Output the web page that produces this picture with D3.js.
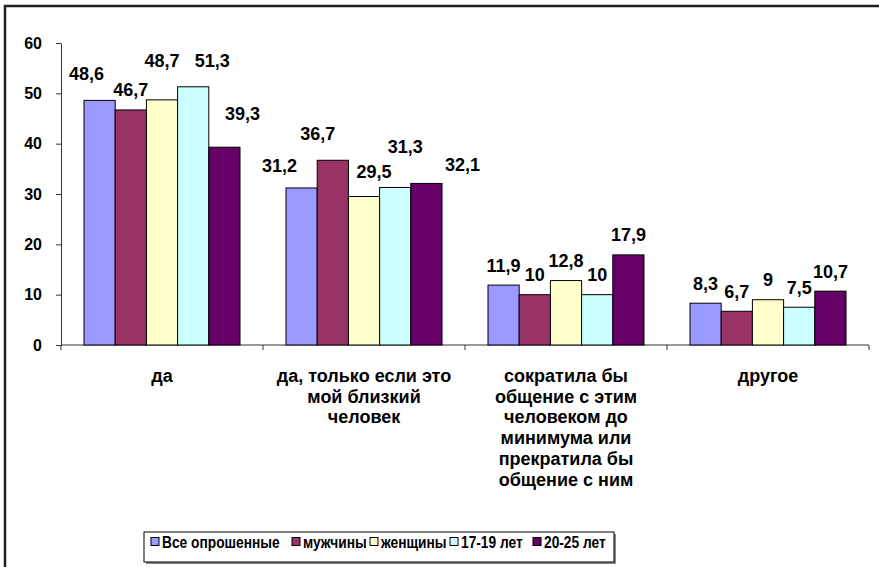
<!DOCTYPE html>
<html>
<head>
<meta charset="utf-8">
<script src="https://cdn.jsdelivr.net/npm/d3@7"></script>
<style>
  body { margin: 0; background: #fff; }
  text { font-family: 'Liberation Sans', Arial, sans-serif; font-weight: bold; fill: #000; }
</style>
</head>
<body>
<div class="chart"></div>
<script>
const categories = [
    'да',
    'да, только если это\nмой близкий\nчеловек',
    'сократила бы\nобщение с этим\nчеловеком до\nминимума или\nпрекратила бы\nобщение с ним',
    'другое'
];
const seriesNames = ['Все опрошенные', 'мужчины', 'женщины', '17-19 лет', '20-25 лет'];
const allRespondents = [48.6, 31.2, 11.9, 8.3];
const men = [46.7, 36.7, 10, 6.7];
const women = [48.7, 29.5, 12.8, 9];
const age17to19 = [51.3, 31.3, 10, 7.5];
const age20to25 = [39.3, 32.1, 17.9, 10.7];
const yTicks = [0, 10, 20, 30, 40, 50, 60];

// label nudges (px) where the original labels were dragged away from the bar
const labelNudge = [
    [[-13, -7], [-22, -2], [0, 0], [0, 0]],
    [[0, 0], [-15, -7], [0, 0], [0, 0]],
    [[0, -19], [10, -5], [0, 0], [0, 0]],
    [[19, -6], [10, -21], [0, 0], [0, 0]],
    [[18, -14], [36, 1], [0, 0], [0, 0]]
];

const colors = ['#9999ff', '#993366', '#ffffcc', '#ccffff', '#660066'];
const seriesValues = [allRespondents, men, women, age17to19, age20to25];

const w = 879;
const h = 567;

const svg = d3.select('.chart')
    .append('svg')
    .attr('width', w)
    .attr('height', h);

// outer frame
svg.append('rect')
    .attr('x', 5).attr('y', 6)
    .attr('width', 900).attr('height', 600)
    .attr('fill', 'none')
    .attr('stroke', '#222')
    .attr('stroke-width', 2.5);

const x0 = d3.scaleBand()
    .domain(d3.range(categories.length))
    .range([61, 869]);

const x1 = d3.scaleBand()
    .domain(d3.range(seriesNames.length))
    .range([23, x0.bandwidth() - 23]);

const y = d3.scaleLinear()
    .domain([0, 60])
    .range([345, 43]);

// y axis
const yAxis = d3.axisLeft(y).tickValues(yTicks).tickSize(5).tickSizeOuter(0).tickPadding(14);
const gy = svg.append('g')
    .attr('transform', 'translate(61,0)')
    .call(yAxis);
gy.select('.domain').attr('stroke', '#333');
gy.selectAll('.tick line').attr('stroke', '#333');
gy.selectAll('.tick text')
    .style('font-size', '16px')
    .style('font-family', "'Liberation Sans', Arial, sans-serif")
    .style('font-weight', 'bold');

// x axis line with ticks between categories
const gx = svg.append('g').attr('transform', 'translate(0,345)');
gx.append('line')
    .attr('x1', 61).attr('x2', 869)
    .attr('stroke', '#333');
gx.selectAll('.sep')
    .data(d3.range(categories.length + 1))
    .enter()
    .append('line')
    .attr('x1', (d) => d < categories.length ? x0(d) : x0(d - 1) + x0.bandwidth())
    .attr('x2', (d) => d < categories.length ? x0(d) : x0(d - 1) + x0.bandwidth())
    .attr('y1', 0).attr('y2', 5)
    .attr('stroke', '#333');

// bars
const groups = svg.selectAll('.grp')
    .data(categories)
    .enter()
    .append('g')
    .attr('transform', (d, i) => 'translate(' + x0(i) + ',0)');

groups.each(function (c, ci) {
    const g = d3.select(this);
    seriesValues.forEach((vals, si) => {
        const v = vals[ci];
        g.append('rect')
            .attr('x', x1(si))
            .attr('y', y(v))
            .attr('width', x1.bandwidth())
            .attr('height', y(0) - y(v))
            .attr('fill', colors[si])
            .attr('stroke', '#000')
            .attr('stroke-width', 1);
        const nudge = labelNudge[si][ci];
        g.append('text')
            .attr('x', x1(si) + x1.bandwidth() / 2 + nudge[0])
            .attr('y', y(v) - 20 + nudge[1])
            .attr('dy', '0.36em')
            .attr('text-anchor', 'middle')
            .style('font-size', '18px')
            .text(String(v).replace('.', ','));
    });
});

// category labels
categories.forEach((c, i) => {
    const t = svg.append('text')
        .attr('text-anchor', 'middle')
        .style('font-size', '18px');
    c.split('\n').forEach((line, li) => {
        t.append('tspan')
            .attr('x', x0(i) + x0.bandwidth() / 2)
            .attr('y', 382 + li * 20.7)
            .text(line);
    });
});

// legend
const legend = svg.append('g');
legend.append('rect')
    .attr('x', 146).attr('y', 534)
    .attr('width', 470).attr('height', 30)
    .attr('fill', '#888');
legend.append('rect')
    .attr('x', 144).attr('y', 532)
    .attr('width', 470).attr('height', 30)
    .attr('fill', '#fff')
    .attr('stroke', '#000');

const legendX = [151, 292, 370, 450, 533];
seriesNames.forEach((name, i) => {
    legend.append('rect')
        .attr('x', legendX[i]).attr('y', 537.5)
        .attr('width', 8).attr('height', 8)
        .attr('fill', colors[i])
        .attr('stroke', '#000');
    // the original legend font is narrow and tall
    legend.append('text')
        .attr('transform', 'translate(' + (legendX[i] + 11) + ',548) scale(0.86,1)')
        .style('font-size', '16px')
        .text(name);
});
</script>
</body>
</html>
